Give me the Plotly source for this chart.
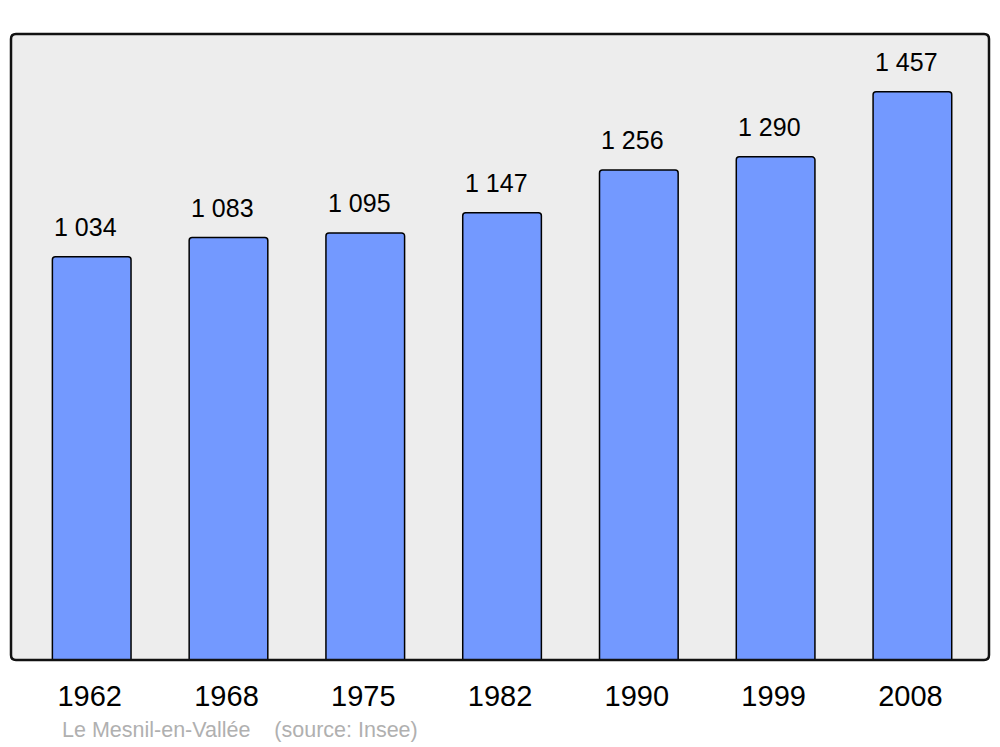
import plotly.graph_objects as go

years = ["1962", "1968", "1975", "1982", "1990", "1999", "2008"]
population = [1034, 1083, 1095, 1147, 1256, 1290, 1457]
value_labels = ["1 034", "1 083", "1 095", "1 147", "1 256", "1 290", "1 457"]
caption = "Le Mesnil-en-Vallée    (source: Insee)"

# page body has an 8px margin, so the figure is slightly smaller and offset
OFF = 8
W, H = 1000 - OFF, 747 - OFF
L, R, T = 11 - OFF, 11, 34 - OFF
ph = 626
B = H - T - ph
pw = W - L - R

fig = go.Figure()
fig.add_trace(go.Bar(
    x=years, y=population, width=0.575,
    marker=dict(color="#7399ff", line=dict(color="#000000", width=1.5), cornerradius=3),
    hoverinfo="skip",
))

for i, (v, lab) in enumerate(zip(population, value_labels)):
    fig.add_annotation(x=i, y=v, text=lab, showarrow=False, yanchor="bottom",
                       yshift=14, xshift=-6,
                       font=dict(family="Liberation Sans, Arial", size=25, color="#000"))

fig.add_annotation(xref="paper", yref="paper", x=(60 - 11) / pw, y=(660 - 730) / ph,
                   xanchor="left", yanchor="middle", showarrow=False, text=caption,
                   font=dict(family="Liberation Sans, Arial", size=21.5, color="#b0b0b0"))

# rounded plot border
rx, ry = 5 / pw, 5 / ph
path = (f"M {rx},0 L {1-rx},0 Q 1,0 1,{ry} L 1,{1-ry} Q 1,1 {1-rx},1 "
        f"L {rx},1 Q 0,1 0,{1-ry} L 0,{ry} Q 0,0 {rx},0 Z")
fig.add_shape(type="path", path=path, xref="paper", yref="paper",
              line=dict(color="#111", width=2.5), layer="above")

fig.update_layout(
    width=W, height=H,
    margin=dict(l=L, r=R, t=T, b=B),
    paper_bgcolor="#ffffff", plot_bgcolor="#ededed",
    showlegend=False,
    xaxis=dict(type="category", range=[-0.59, 6.56], showgrid=False, zeroline=False,
               showline=False, ticks="outside", ticklen=10, tickcolor="rgba(0,0,0,0)",
               ticklabelshift=-2,
               tickfont=dict(family="Liberation Sans, Arial", size=29, color="#000")),
    yaxis=dict(range=[0, 1605], showgrid=False, zeroline=False, showline=False,
               showticklabels=False, ticks=""),
)

fig.write_html("out.html")
